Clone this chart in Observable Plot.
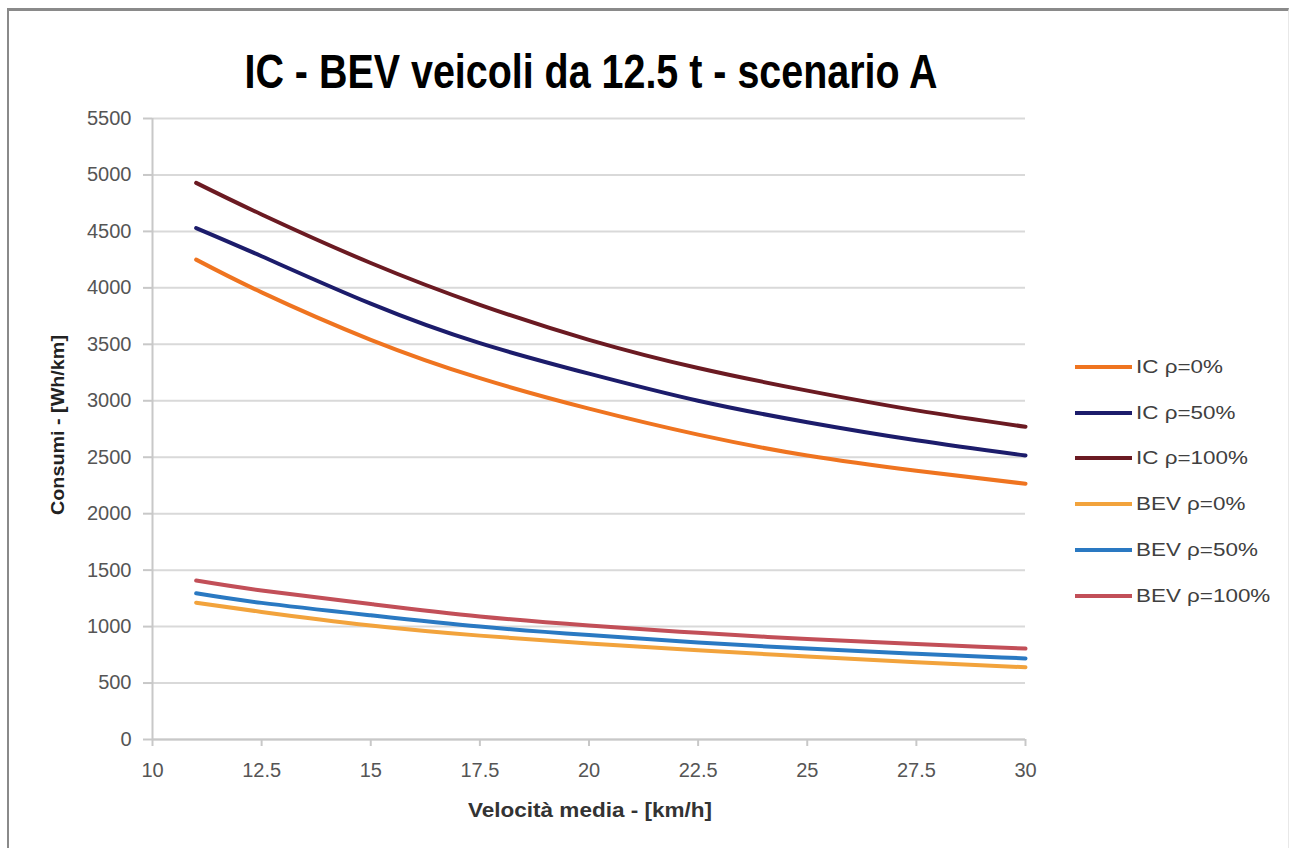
<!DOCTYPE html>
<html>
<head>
<meta charset="utf-8">
<script src="https://cdn.jsdelivr.net/npm/d3@7"></script>
<script src="https://cdn.jsdelivr.net/npm/@observablehq/plot@0.6"></script>
<style>
  html, body { margin: 0; padding: 0; background: #fff; }
  #wrap { position: relative; width: 1291px; height: 848px; overflow: hidden; }
  #frame { position: absolute; left: 7px; top: 8px; width: 1282px; height: 850px; border-left: 2px solid #8a8a8a; border-top: 3px solid #8a8a8a; border-right: 1px solid #e8e8e8; box-sizing: border-box; pointer-events: none; }
  #legend { position: absolute; left: 1075px; top: 344px; font-family: "Liberation Sans", Arial, sans-serif; font-size: 19px; color: #404040; }
  .item { display: flex; align-items: center; height: 45.8px; }
  .swatch { width: 57px; height: 4px; margin-right: 4px; }
  .item span { display: inline-block; transform: scaleX(1.18); transform-origin: left center; }
</style>
</head>
<body>
<div id="wrap">
  <div id="chart"></div>
  <div id="legend"></div>
  <div id="frame"></div>
</div>
<script>
const title = "IC - BEV veicoli da 12.5 t - scenario A";
const xLabel = "Velocità media - [km/h]";
const yLabel = "Consumi - [Wh/km]";

const speeds = [11, 12.5, 15, 17.5, 20, 22.5, 25, 27.5, 30];
const seriesNames = ["IC ρ=0%", "IC ρ=50%", "IC ρ=100%", "BEV ρ=0%", "BEV ρ=50%", "BEV ρ=100%"];
const seriesColors = ["#ef7420", "#1c1c6b", "#6b1a22", "#f2a33c", "#2a79c2", "#c24f58"];

const ic0    = [4250, 3960, 3540, 3200, 2930, 2700, 2515, 2380, 2265];
const ic50   = [4530, 4280, 3860, 3510, 3240, 3000, 2810, 2650, 2515];
const ic100  = [4930, 4650, 4220, 3850, 3540, 3290, 3090, 2915, 2770];
const bev0   = [1212, 1130, 1010, 920, 850, 790, 735, 685, 640];
const bev50  = [1295, 1210, 1100, 1000, 925, 860, 805, 760, 718];
const bev100 = [1408, 1320, 1200, 1090, 1010, 945, 890, 845, 805];

const xTicks = [10, 12.5, 15, 17.5, 20, 22.5, 25, 27.5, 30];
const yTicks = [0, 500, 1000, 1500, 2000, 2500, 3000, 3500, 4000, 4500, 5000, 5500];

const allSeries = [ic0, ic50, ic100, bev0, bev50, bev100];
const rows = [];
allSeries.forEach((vals, i) => vals.forEach((v, j) => rows.push({speed: speeds[j], value: v, series: seriesNames[i]})));

const tickFont = '"Liberation Sans", Arial, sans-serif';

const chart = Plot.plot({
  width: 1291,
  height: 848,
  marginLeft: 152,
  marginRight: 266,
  marginTop: 118,
  marginBottom: 109,
  style: {fontFamily: tickFont, fontSize: "20px", color: "#555", background: "transparent"},
  x: {domain: [10, 30], ticks: xTicks},
  y: {domain: [0, 5500], ticks: yTicks},
  color: {domain: seriesNames, range: seriesColors},
  marks: [
    Plot.gridY(yTicks, {stroke: "#d9d9d9", strokeOpacity: 1, strokeWidth: 2}),
    Plot.ruleX([10], {stroke: "#c8c8c8", strokeWidth: 2}),
    Plot.ruleY([0], {stroke: "#c8c8c8", strokeWidth: 2}),
    Plot.axisY(yTicks, {tickSize: 9, tickPadding: 12, stroke: "#c8c8c8", strokeWidth: 2, label: null, fill: "#555", fontSize: 20, tickFormat: d => String(d)}),
    Plot.axisX(xTicks, {tickSize: 7, tickPadding: 16, stroke: "#c8c8c8", strokeWidth: 2, label: null, fill: "#555", fontSize: 20, tickFormat: d => String(d)}),
    Plot.line(rows, {x: "speed", y: "value", z: "series", stroke: "series", strokeWidth: 4, curve: "natural"})
  ]
});
document.getElementById("chart").appendChild(chart);

const svg = d3.select(chart);
svg.append("text")
  .attr("x", 591).attr("y", 88)
  .attr("text-anchor", "middle")
  .attr("textLength", 693).attr("lengthAdjust", "spacingAndGlyphs")
  .style("font-family", '"Liberation Sans", Arial, sans-serif')
  .style("font-weight", "bold").style("font-size", "48px").style("fill", "#000")
  .text(title);
svg.append("text")
  .attr("x", 590).attr("y", 817)
  .attr("text-anchor", "middle")
  .attr("textLength", 244).attr("lengthAdjust", "spacingAndGlyphs")
  .style("font-family", '"Liberation Sans", Arial, sans-serif')
  .style("font-weight", "bold").style("font-size", "20px").style("fill", "#333")
  .text(xLabel);
svg.append("text")
  .attr("transform", "translate(64,425) rotate(-90)")
  .attr("text-anchor", "middle")
  .attr("textLength", 180).attr("lengthAdjust", "spacingAndGlyphs")
  .style("font-family", '"Liberation Sans", Arial, sans-serif')
  .style("font-weight", "bold").style("font-size", "19px").style("fill", "#222")
  .text(yLabel);

const legend = document.getElementById("legend");
seriesNames.forEach((name, i) => {
  const item = document.createElement("div");
  item.className = "item";
  const sw = document.createElement("div");
  sw.className = "swatch";
  sw.style.background = seriesColors[i];
  const label = document.createElement("span");
  label.textContent = name;
  item.appendChild(sw);
  item.appendChild(label);
  legend.appendChild(item);
});
</script>
</body>
</html>
